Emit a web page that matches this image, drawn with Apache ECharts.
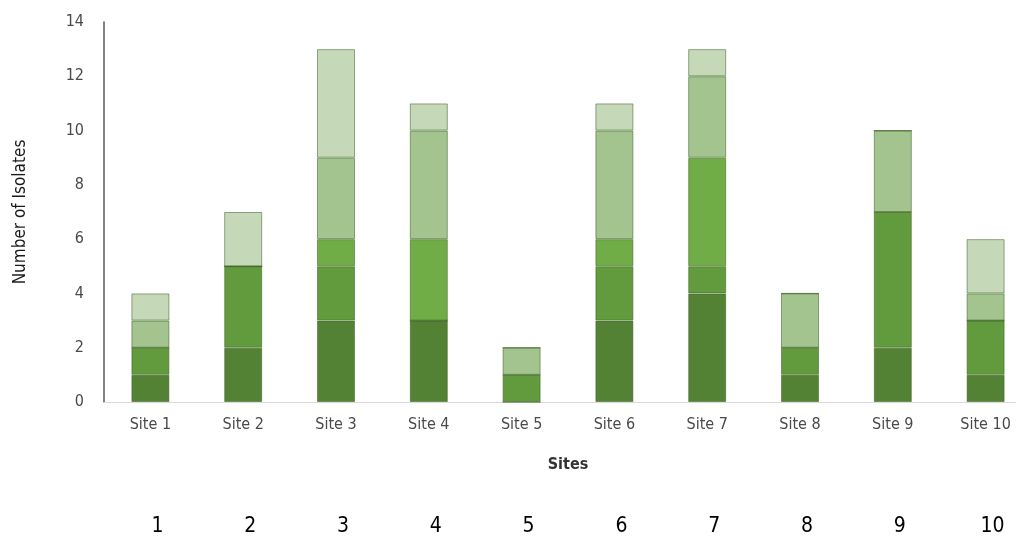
<!DOCTYPE html>
<html lang="en" style="height: 100%">
<head>
    <meta charset="UTF-8">
    <title>Number of Isolates by Site</title>
</head>
<body style="height: 100%; margin: 0; background: #fff; overflow: hidden">
<!-- chart runs a bit past the right edge of the window, like the cropped original -->
<div id="container" style="width: 1032px; height: 537px"></div>
<script type="text/javascript" src="https://cdn.jsdelivr.net/npm/echarts@6/dist/echarts.min.js"></script>
<script type="text/javascript">
    // categories and stacked values (bottom to top)
    var sites = ['Site 1', 'Site 2', 'Site 3', 'Site 4', 'Site 5', 'Site 6', 'Site 7', 'Site 8', 'Site 9', 'Site 10'];
    var siteNumbers = ['1', '2', '3', '4', '5', '6', '7', '8', '9', '10'];
    var layer1 = [1, 2, 3, 3, 0, 3, 4, 1, 2, 1];
    var layer2 = [1, 3, 2, 0, 1, 2, 1, 1, 5, 2];
    var layer3 = [0, 0, 1, 3, 0, 1, 4, 0, 0, 0];
    var layer4 = [1, 0, 3, 4, 1, 4, 3, 2, 3, 1];
    var layer5 = [1, 2, 4, 1, 0, 1, 1, 0, 0, 2];
    var yTicks = [0, 2, 4, 6, 8, 10, 12, 14];

    var layers = [layer1, layer2, layer3, layer4, layer5];
    var colors = ['#548235', '#629b3d', '#70ad47', '#a3c48f', '#c5d9b9'];
    var font = "'DejaVu Sans Condensed', 'Liberation Sans', sans-serif";

    var dom = document.getElementById('container');
    var myChart = echarts.init(dom);

    var series = layers.map(function (vals, i) {
        return {
            type: 'bar',
            stack: 'total',
            barWidth: 38,
            xAxisIndex: 0,
            data: vals,
            itemStyle: {
                color: colors[i],
                borderColor: 'rgba(62,100,38,0.55)',
                borderWidth: 1
            }
        };
    });

    var option = {
        animation: false,
        grid: {left: 104, right: 0, top: 22, bottom: 135},
        xAxis: [{
            type: 'category',
            data: sites,
            axisLine: {lineStyle: {color: '#d9d9d9', width: 1}},
            axisTick: {show: false},
            axisLabel: {color: '#4a4a4a', fontSize: 16, fontFamily: font, margin: 15},
            name: 'Sites',
            nameLocation: 'middle',
            nameGap: 55,
            nameTextStyle: {color: '#333', fontSize: 16, fontWeight: 'bold', fontFamily: font}
        }, {
            type: 'category',
            position: 'bottom',
            data: siteNumbers,
            axisLine: {show: false},
            axisTick: {show: false},
            axisLabel: {color: '#000', fontSize: 21, fontFamily: font, margin: 114, padding: [0, 0, 0, 14]}
        }],
        yAxis: {
            type: 'value',
            min: yTicks[0],
            max: yTicks[yTicks.length - 1],
            interval: 2,
            axisLine: {show: true, lineStyle: {color: '#595959', width: 1.5}},
            axisTick: {show: false},
            splitLine: {show: false},
            axisLabel: {color: '#4a4a4a', fontSize: 16, fontFamily: font, margin: 20},
            name: 'Number of Isolates',
            nameLocation: 'middle',
            nameGap: 75,
            nameTextStyle: {color: '#1a1a1a', fontSize: 17, fontFamily: font}
        },
        series: series
    };

    myChart.setOption(option);
</script>
</body>
</html>
